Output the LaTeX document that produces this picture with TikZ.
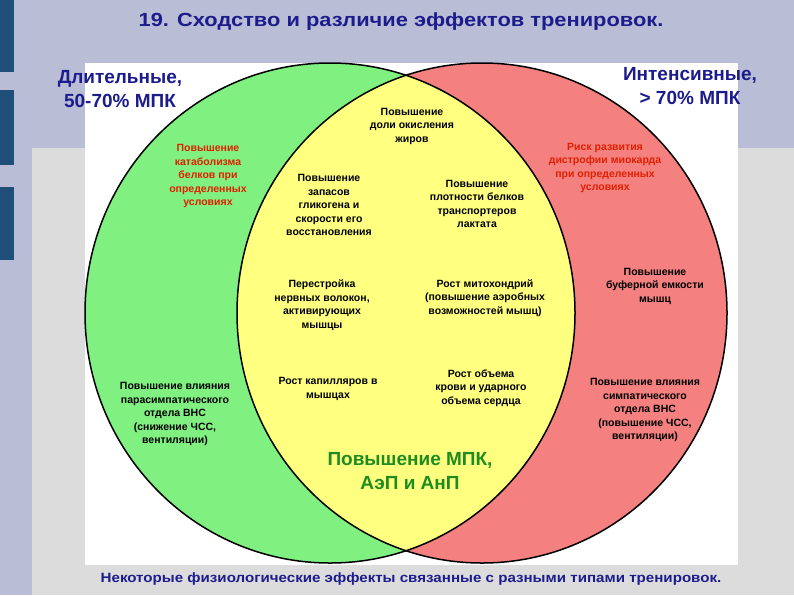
\documentclass[tikz,border=0pt]{standalone}
\usepackage{fontspec}
\setmainfont{Liberation Sans}
\definecolor{bgblue}{HTML}{B9BDD5}
\definecolor{bggray}{HTML}{DCDCDC}
\definecolor{barblue}{HTML}{1F4E79}
\definecolor{navy}{HTML}{1C1C8C}
\definecolor{vgreen}{HTML}{80F080}
\definecolor{vred}{HTML}{F48080}
\definecolor{vyellow}{HTML}{FFFF80}
\definecolor{redtxt}{HTML}{E02000}
\definecolor{grtxt}{HTML}{1E8C1E}
\tikzset{
  lbl/.style={font=\bfseries\fontsize{10.5}{13.5}\selectfont, align=center},
  rlbl/.style={lbl, text=redtxt},
  head/.style={font=\bfseries\fontsize{19}{24}\selectfont, text=navy, align=center}
}
\begin{document}
\begin{tikzpicture}[x=1pt,y=-1pt]
\useasboundingbox (0,0) rectangle (794,595);
\fill[bgblue] (0,0) rectangle (794,595);
\fill[bggray] (32,148) rectangle (794,595);
\foreach \a/\b in {0/72,90/165,187/260} \fill[barblue] (0,\a) rectangle (14,\b);
\fill[white] (85,63) rectangle (738,565);
\fill[vgreen] (330,313) ellipse [x radius=245, y radius=250];
\fill[vred] (482,313) ellipse [x radius=245, y radius=250];
\begin{scope}
\clip (330,313) ellipse [x radius=245, y radius=250];
\fill[vyellow] (482,313) ellipse [x radius=245, y radius=250];
\end{scope}
\draw[line width=1.5pt] (330,313) ellipse [x radius=245, y radius=250];
\draw[line width=1.5pt] (482,313) ellipse [x radius=245, y radius=250];
\node[font=\bfseries\fontsize{19}{22}\selectfont, text=navy, xscale=1.15] (title) at (401,22) {19. Сходство и различие эффектов тренировок.};
\node[head] (left) at (120,89) {Длительные,\\50-70\% МПК};
\node[head] (right) at (690,86) {Интенсивные,\\> 70\% МПК};
\node[lbl] (n1) at (412,126) {Повышение\\доли окисления\\жиров};
\node[rlbl] (n2) at (208,176) {Повышение\\катаболизма\\белков при\\определенных\\условиях};
\node[rlbl] (n3) at (605,168) {Риск развития\\дистрофии миокарда\\при определенных\\условиях};
\node[lbl] (n4) at (329,205) {Повышение\\запасов\\гликогена и\\скорости его\\восстановления};
\node[lbl] (n5) at (477,204) {Повышение\\плотности белков\\транспортеров\\лактата};
\node[lbl] (n6) at (655,286) {Повышение\\буферной емкости\\мышц};
\node[lbl] (n7) at (322,305) {Перестройка\\нервных волокон,\\активирующих\\мышцы};
\node[lbl] (n8) at (485,298) {Рост митохондрий\\(повышение аэробных\\возможностей мышц)};
\node[lbl] (n9) at (328,389) {Рост капилляров в\\мышцах};
\node[lbl] (n10) at (481,388) {Рост объема\\крови и ударного\\объема сердца};
\node[lbl] (n11) at (175,414) {Повышение влияния\\парасимпатического\\отдела ВНС\\(снижение ЧСС,\\вентиляции)};
\node[lbl] (n12) at (645,410) {Повышение влияния\\симпатического\\отдела ВНС\\(повышение ЧСС,\\вентиляции)};
\node[font=\bfseries\fontsize{19}{24}\selectfont, text=grtxt, align=center] (mpk) at (410,471) {Повышение МПК,\\АэП и АнП};
\node[font=\bfseries\fontsize{13.5}{15}\selectfont, text=navy, xscale=1.12] (cap) at (411,579) {Некоторые физиологические эффекты связанные с разными типами тренировок.};
\end{tikzpicture}
\end{document}
